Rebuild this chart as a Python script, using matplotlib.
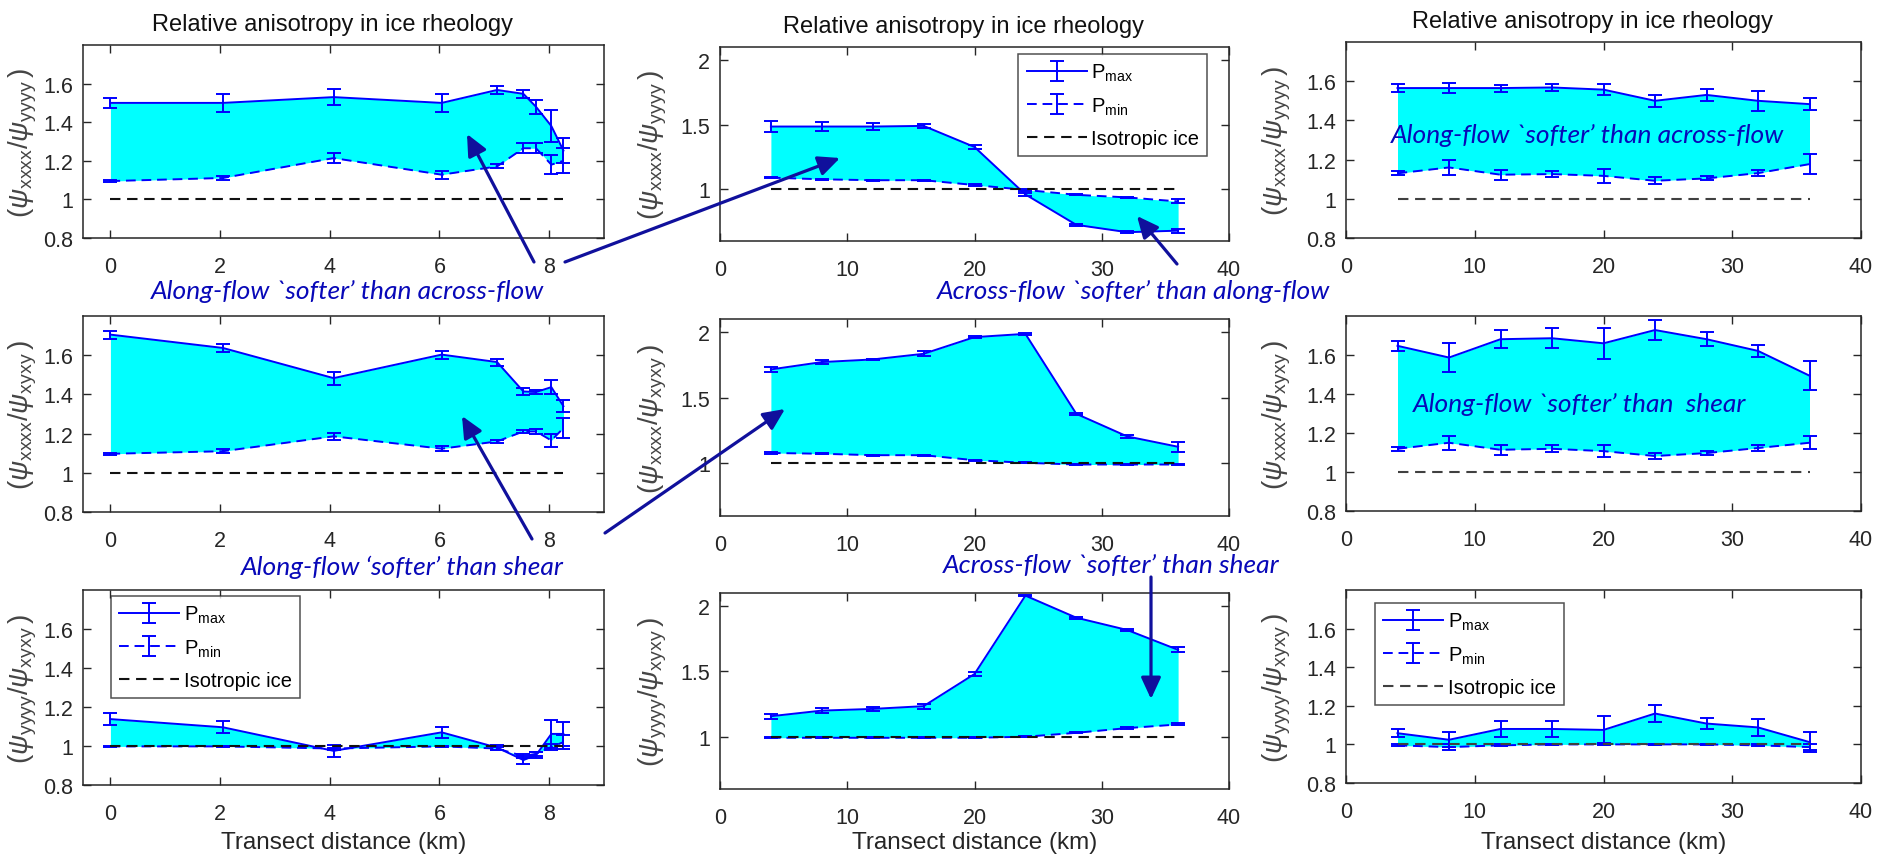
import matplotlib
matplotlib.use("Agg")
import matplotlib.pyplot as plt
from matplotlib.patches import FancyArrowPatch

plt.rcParams["font.family"] = ["Liberation Sans", "DejaVu Sans"]
plt.rcParams["mathtext.fontset"] = "custom"
plt.rcParams["mathtext.rm"] = "Liberation Sans"
plt.rcParams["mathtext.it"] = "Liberation Sans:italic"
plt.rcParams["mathtext.bf"] = "Liberation Sans:bold"

# ---------------- data ----------------
# transect A (short, ~8 km) and transect B (long, ~36 km) sample positions, km
dist_a = [0, 2.05, 4.07, 6.04, 7.05, 7.53, 7.76, 8.04, 8.26]
dist_b = [4, 8, 12, 16, 20, 24, 28, 32, 36]

# psi_xxxx / psi_yyyy
xy_a_pmax = [1.50, 1.50, 1.53, 1.50, 1.567, 1.547, 1.48, 1.38, 1.253]
xy_a_pmax_err = [0.025, 0.045, 0.04, 0.045, 0.02, 0.02, 0.035, 0.085, 0.064]
xy_a_pmin = [1.095, 1.111, 1.214, 1.128, 1.171, 1.265, 1.265, 1.18, 1.20]
xy_a_pmin_err = [0.005, 0.01, 0.025, 0.02, 0.01, 0.025, 0.025, 0.05, 0.064]

xy_b1_pmax = [1.485, 1.485, 1.485, 1.49, 1.327, 0.96, 0.725, 0.668, 0.68]
xy_b1_pmax_err = [0.04, 0.035, 0.025, 0.015, 0.015, 0.01, 0.006, 0.006, 0.015]
xy_b1_pmin = [1.09, 1.077, 1.07, 1.07, 1.033, 0.995, 0.957, 0.937, 0.906]
xy_b1_pmin_err = [0.005, 0.005, 0.005, 0.005, 0.005, 0.005, 0.005, 0.005, 0.015]

xy_b2_pmax = [1.565, 1.565, 1.565, 1.568, 1.557, 1.50, 1.53, 1.50, 1.483]
xy_b2_pmax_err = [0.02, 0.025, 0.018, 0.018, 0.027, 0.03, 0.03, 0.05, 0.03]
xy_b2_pmin = [1.13, 1.16, 1.123, 1.126, 1.117, 1.092, 1.104, 1.131, 1.177]
xy_b2_pmin_err = [0.01, 0.04, 0.025, 0.017, 0.035, 0.017, 0.01, 0.017, 0.05]

# psi_xxxx / psi_xyxy
xs_a_pmax = [1.705, 1.637, 1.483, 1.603, 1.565, 1.415, 1.412, 1.437, 1.34]
xs_a_pmax_err = [0.02, 0.02, 0.033, 0.02, 0.018, 0.02, 0.01, 0.035, 0.03]
xs_a_pmin = [1.097, 1.11, 1.186, 1.123, 1.16, 1.211, 1.211, 1.165, 1.228]
xs_a_pmin_err = [0.005, 0.01, 0.017, 0.013, 0.008, 0.008, 0.012, 0.035, 0.05]

xs_b1_pmax = [1.716, 1.772, 1.792, 1.835, 1.962, 1.987, 1.378, 1.206, 1.127]
xs_b1_pmax_err = [0.02, 0.015, 0.007, 0.02, 0.01, 0.01, 0.01, 0.01, 0.04]
xs_b1_pmin = [1.08, 1.074, 1.063, 1.063, 1.025, 1.005, 0.992, 0.992, 0.992]
xs_b1_pmin_err = [0.005, 0.005, 0.005, 0.005, 0.005, 0.004, 0.004, 0.004, 0.004]

xs_b2_pmax = [1.647, 1.587, 1.681, 1.686, 1.66, 1.728, 1.681, 1.621, 1.494]
xs_b2_pmax_err = [0.025, 0.075, 0.045, 0.05, 0.08, 0.05, 0.035, 0.03, 0.075]
xs_b2_pmin = [1.119, 1.15, 1.114, 1.119, 1.107, 1.082, 1.097, 1.123, 1.15]
xs_b2_pmin_err = [0.01, 0.035, 0.025, 0.017, 0.03, 0.017, 0.01, 0.017, 0.033]

# psi_yyyy / psi_xyxy
ys_a_pmax = [1.138, 1.096, 0.975, 1.07, 0.992, 0.928, 0.953, 1.062, 1.062]
ys_a_pmax_err = [0.03, 0.03, 0.03, 0.03, 0.015, 0.02, 0.015, 0.07, 0.06]
ys_a_pmin = [0.998, 0.998, 0.987, 0.998, 0.987, 0.948, 0.96, 0.995, 1.02]
ys_a_pmin_err = [0.004, 0.004, 0.005, 0.004, 0.01, 0.01, 0.01, 0.015, 0.035]

ys_b1_pmax = [1.157, 1.2, 1.213, 1.234, 1.48, 2.08, 1.911, 1.817, 1.665]
ys_b1_pmax_err = [0.02, 0.02, 0.013, 0.02, 0.015, 0.005, 0.007, 0.007, 0.02]
ys_b1_pmin = [0.992, 0.992, 0.992, 0.992, 0.992, 1.0, 1.03, 1.066, 1.094]
ys_b1_pmin_err = [0.003, 0.003, 0.003, 0.003, 0.003, 0.003, 0.004, 0.005, 0.008]

ys_b2_pmax = [1.058, 1.024, 1.08, 1.08, 1.075, 1.16, 1.108, 1.088, 1.012]
ys_b2_pmax_err = [0.02, 0.04, 0.04, 0.04, 0.07, 0.045, 0.03, 0.045, 0.05]
ys_b2_pmin = [0.995, 0.986, 0.995, 1.0, 1.0, 1.0, 1.0, 0.995, 0.986]
ys_b2_pmin_err = [0.005, 0.015, 0.005, 0.004, 0.004, 0.004, 0.004, 0.005, 0.015]

isotropic = 1.0

title_text = "Relative anisotropy in ice rheology"
xlabel_text = "Transect distance (km)"
ylabel_texts = [
    r"$(\psi_{\mathrm{xxxx}}/\psi_{\mathrm{yyyy}}\,)$",
    r"$(\psi_{\mathrm{xxxx}}/\psi_{\mathrm{xyxy}}\,)$",
    r"$(\psi_{\mathrm{yyyy}}/\psi_{\mathrm{xyxy}}\,)$",
]
legend_labels = [r"P$_{\mathrm{max}}$", r"P$_{\mathrm{min}}$", "Isotropic ice"]

ticks_a = [0, 2, 4, 6, 8]
ticks_b = [0, 10, 20, 30, 40]
yticks_fine = [0.8, 1.0, 1.2, 1.4, 1.6]
yticklabels_fine = ["0.8", "1", "1.2", "1.4", "1.6"]
yticks_coarse = [1.0, 1.5, 2.0]
yticklabels_coarse = ["1", "1.5", "2"]

# ---------------- figure ----------------
W, H = 1878, 862
fig = plt.figure(figsize=(W / 100, H / 100), dpi=100)

BLUE = "#0000FF"
CYAN = "#00FFFF"
NOTE = "#0808B8"
ARROW = "#10109C"
AXC = "#262626"


def px_axes(left, top, right, bottom):
    return fig.add_axes([left / W, 1 - bottom / H, (right - left) / W, (bottom - top) / H])


panels = [
    # (box px, x, pmax, pmax_err, pmin, pmin_err, transect, row)
    ((83, 46, 604, 239), dist_a, xy_a_pmax, xy_a_pmax_err, xy_a_pmin, xy_a_pmin_err, "a", 0),
    ((720, 48, 1229, 242), dist_b, xy_b1_pmax, xy_b1_pmax_err, xy_b1_pmin, xy_b1_pmin_err, "b1", 0),
    ((1346, 43, 1861, 239), dist_b, xy_b2_pmax, xy_b2_pmax_err, xy_b2_pmin, xy_b2_pmin_err, "b2", 0),
    ((83, 317, 604, 513), dist_a, xs_a_pmax, xs_a_pmax_err, xs_a_pmin, xs_a_pmin_err, "a", 1),
    ((720, 320, 1229, 517), dist_b, xs_b1_pmax, xs_b1_pmax_err, xs_b1_pmin, xs_b1_pmin_err, "b1", 1),
    ((1346, 317, 1861, 512), dist_b, xs_b2_pmax, xs_b2_pmax_err, xs_b2_pmin, xs_b2_pmin_err, "b2", 1),
    ((83, 591, 604, 786), dist_a, ys_a_pmax, ys_a_pmax_err, ys_a_pmin, ys_a_pmin_err, "a", 2),
    ((720, 594, 1229, 790), dist_b, ys_b1_pmax, ys_b1_pmax_err, ys_b1_pmin, ys_b1_pmin_err, "b1", 2),
    ((1346, 591, 1861, 784), dist_b, ys_b2_pmax, ys_b2_pmax_err, ys_b2_pmin, ys_b2_pmin_err, "b2", 2),
]

legend_style = dict(fontsize=14.5, frameon=True, fancybox=False, edgecolor=AXC,
                    handlelength=3.0, handletextpad=0.2, labelspacing=0.6,
                    borderpad=0.4, borderaxespad=0)

XLABEL_Y = 843  # baseline row for the x-axis titles, figure px from top

for box, x, pmax, pmax_e, pmin, pmin_e, kind, row in panels:
    ax = px_axes(*box)
    ax.fill_between(x, pmin, pmax, color=CYAN, lw=0, zorder=1)
    h1 = ax.errorbar(x, pmax, yerr=pmax_e, color=BLUE, lw=1.4, elinewidth=1.4,
                     capsize=5, capthick=1.4, zorder=3)
    h2 = ax.errorbar(x, pmin, yerr=pmin_e, color=BLUE, lw=1.4, elinewidth=1.4,
                     capsize=5, capthick=1.4, ls=(0, (5, 3)), zorder=3)
    iso_color = "#404040" if kind == "b2" else "#111111"
    h3, = ax.plot([x[0], x[-1]], [isotropic, isotropic], color=iso_color, lw=1.5,
                  ls=(0, (5, 3.2)), zorder=4)

    if kind == "a":
        ax.set_xlim(-0.5, 9)
        ax.set_xticks(ticks_a)
        ax.set_xticklabels([str(t) for t in ticks_a])
    else:
        ax.set_xlim(0, 40)
        ax.set_xticks(ticks_b)
        ax.set_xticklabels([str(t) for t in ticks_b])
    if kind == "b1":
        ax.set_ylim(0.6, 2.1)
        ax.set_yticks(yticks_coarse)
        ax.set_yticklabels(yticklabels_coarse)
    else:
        ax.set_ylim(0.8, 1.8)
        ax.set_yticks(yticks_fine)
        ax.set_yticklabels(yticklabels_fine)

    ax.tick_params(direction="in", top=True, right=True, length=6, width=1,
                   colors=AXC, labelsize=15.5)
    ax.tick_params(axis="x", pad=13)
    ax.tick_params(axis="y", pad=7)
    for s in ax.spines.values():
        s.set_color(AXC)
        s.set_linewidth(1.1)

    width_px = box[2] - box[0]
    height_px = box[3] - box[1]
    lab_off = {"a": 60, "b1": 67, "b2": 69}[kind]
    ax.set_ylabel(ylabel_texts[row], fontsize=20, color="#454545")
    ax.yaxis.label.set_va("center")
    ax.yaxis.set_label_coords(-lab_off / width_px, 0.5)

    if row == 0:
        ax.set_title(title_text, fontsize=17, color="#111111", pad=11,
                     x=0.5 - 11 / width_px)
    if row == 2:
        ax.set_xlabel(xlabel_text, fontsize=17.5, color=AXC)
        ax.xaxis.label.set_va("center")
        ax.xaxis.set_label_coords(0.5, -(XLABEL_Y - box[3]) / height_px)

    handles = [h1, h2, h3]
    leg = None
    if kind == "b1" and row == 0:
        leg = ax.legend(handles, legend_labels, loc="upper right",
                        bbox_to_anchor=((1207 - 720) / width_px, 1 - 7 / 194), **legend_style)
    if kind == "a" and row == 2:
        leg = ax.legend(handles, legend_labels, loc="upper left",
                        bbox_to_anchor=((111 - 83) / width_px, 1 - 6 / 195), **legend_style)
    if kind == "b2" and row == 2:
        leg = ax.legend(handles, legend_labels, loc="upper left",
                        bbox_to_anchor=((1375 - 1346) / width_px, 1 - 13 / 193), **legend_style)
    if leg is not None:
        leg.get_frame().set_linewidth(1.1)


def fx(x):
    return x / W


def fy(y):
    return 1 - y / H


note_font = dict(family=["Lato", "DejaVu Sans"], style="italic", fontsize=19,
                 color=NOTE, ha="center", va="center")
notes = [
    ("Along-flow `softer\u2019 than across-flow", 348, 291),
    ("Across-flow `softer\u2019 than along-flow", 1134, 291),
    ("Along-flow `softer\u2019 than across-flow", 1588, 135),
    ("Along-flow \u2018softer\u2019 than shear", 402, 567),
    ("Across-flow `softer\u2019 than shear", 1111, 566),
    ("Along-flow `softer\u2019 than  shear", 1580, 404),
]
for txt, x0, y0 in notes:
    fig.text(fx(x0), fy(y0), txt, zorder=10, **note_font)

arrows = [
    ((534, 263), (467, 135)),
    ((565, 263), (840, 159)),
    ((1177, 265), (1137, 217)),
    ((532, 540), (462, 417)),
    ((605, 534), (785, 410)),
    ((1151, 578), (1151, 700)),
]
for (xa, ya), (xb, yb) in arrows:
    arr = FancyArrowPatch((fx(xa), fy(ya)), (fx(xb), fy(yb)), transform=fig.transFigure,
                          arrowstyle="-|>,head_length=0.65,head_width=0.3",
                          mutation_scale=20, lw=2.3, color=ARROW,
                          shrinkA=0, shrinkB=0, zorder=12)
    fig.add_artist(arr)

fig.savefig("out.png", dpi=100, facecolor="white")
